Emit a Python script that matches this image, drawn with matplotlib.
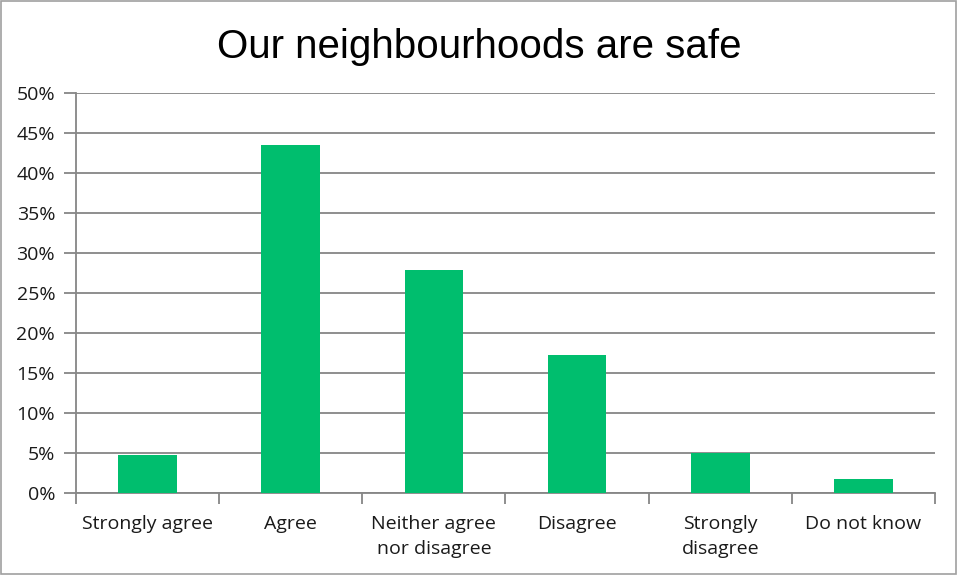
import matplotlib
matplotlib.use("Agg")
import matplotlib.pyplot as plt
from matplotlib.patches import Rectangle
from matplotlib.ticker import FuncFormatter

categories = ["Strongly agree", "Agree", "Neither agree\nnor disagree", "Disagree",
              "Strongly\ndisagree", "Do not know"]
values = [4.75, 43.5, 27.9, 17.25, 5.0, 1.75]
yticks = [0, 5, 10, 15, 20, 25, 30, 35, 40, 45, 50]

grey = "#868686"
green = "#00BE6E"

fig = plt.figure(figsize=(9.58, 5.75), dpi=100)
ax = fig.add_axes([0.0793, 0.1426, 0.8967, 0.6957])

x = range(len(categories))
ax.bar(x, values, width=0.41, color=green, zorder=3)

ax.set_xlim(-0.5, len(categories) - 0.5)
ax.set_ylim(0, 50)
ax.set_yticks(yticks)
ax.yaxis.set_major_formatter(FuncFormatter(lambda v, p: f"{int(v)}%"))
ax.yaxis.grid(True, color=grey, linewidth=1.3, zorder=0)

# boundaries as major ticks, labels on minor ticks at the centres
ax.set_xticks([i - 0.5 for i in range(len(categories) + 1)])
ax.set_xticklabels([])
ax.set_xticks(list(x), minor=True)
ax.set_xticklabels(categories, minor=True, fontsize=14, family="Open Sans", color="#1a1a1a",
                   linespacing=1.5, va="top")
ax.tick_params(axis="x", which="major", length=8, width=1.3, color=grey, direction="out")
ax.tick_params(axis="x", which="minor", length=0, pad=16)
ax.tick_params(axis="y", length=9, width=1.3, color=grey, direction="out", pad=6,
               labelsize=14, labelcolor="#1a1a1a")
for lbl in ax.get_yticklabels():
    lbl.set_family("Open Sans")

for side in ["top", "right"]:
    ax.spines[side].set_visible(False)
ax.spines["left"].set_color(grey)
ax.spines["bottom"].set_color(grey)
ax.spines["left"].set_linewidth(1.3)
ax.spines["bottom"].set_linewidth(1.3)

fig.text(0.5, 0.918, "Our neighbourhoods are safe", ha="center", va="center",
         fontsize=29, family="Liberation Sans")

fig.patches.append(Rectangle((0.001, 0.001), 0.997, 0.997, transform=fig.transFigure,
                             fill=False, edgecolor="#A0A0A0", linewidth=1.2))

fig.savefig("out.png", dpi=100)
